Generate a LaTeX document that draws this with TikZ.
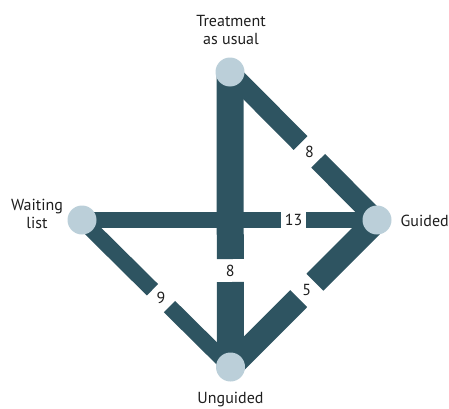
\documentclass[tikz,border=0pt]{standalone}
\usepackage{fontspec}
\setmainfont{PT Sans}
\usetikzlibrary{calc,backgrounds}
\definecolor{edgec}{RGB}{46,84,97}
\definecolor{nodec}{RGB}{187,207,217}
\definecolor{txtc}{RGB}{30,30,30}
\begin{document}
\begin{tikzpicture}[x=1pt,y=1pt,
  edge/.style={draw=edgec, line cap=butt},
  vert/.style={circle, fill=nodec, minimum size=29pt, inner sep=0pt},
  lbl/.style={font=\fontsize{16}{18}\selectfont, text=txtc, inner sep=0pt, align=center},
  num/.style={font=\fontsize{16}{18}\selectfont, text=txtc, inner sep=0pt}]
\useasboundingbox (0,0) rectangle (449,408);
% treatment nodes
\node[vert] (TAU) at (230,336) {};
\node[vert] (WL) at (82,188) {};
\node[vert] (G) at (377,188) {};
\node[vert] (U) at (230.5,41) {};
% names
\node[lbl, anchor=base] (tTAU) at (231,363.5) {Treatment\\as usual};
\node[lbl, anchor=base] (tWL) at (37,180) {Waiting\\list};
\node[lbl, anchor=base west] (tG) at (400.5,181.5) {Guided};
\node[lbl, anchor=base] (tU) at (230.5,4.5) {Unguided};
% edges
\begin{scope}[on background layer]
\path ($(TAU.center)!0.54!(G.center)$) coordinate (m1);
\draw[edge, line width=19.5pt] (TAU.center) -- ($(m1)!12.5pt!(TAU.center)$) ($(m1)!12.5pt!(G.center)$) -- (G.center);
\path (293.5,188) coordinate (m2);
\draw[edge, line width=16pt] (WL.center) -- ($(m2)!12.5pt!(WL.center)$) ($(m2)!12.5pt!(G.center)$) -- (G.center);
\path (230.3,137.5) coordinate (m3);
\draw[edge, line width=27pt] (TAU.center) -- ($(m3)!11.5pt!(TAU.center)$) ($(m3)!11.5pt!(U.center)$) -- (U.center);
\path ($(WL.center)!0.532!(U.center)$) coordinate (m4);
\draw[edge, line width=16pt] (WL.center) -- ($(m4)!12pt!(WL.center)$) ($(m4)!12pt!(U.center)$) -- (U.center);
\path ($(G.center)!0.479!(U.center)$) coordinate (m5);
\draw[edge, line width=24pt] (G.center) -- ($(m5)!11.5pt!(G.center)$) ($(m5)!11.5pt!(U.center)$) -- (U.center);
\end{scope}
% numbers
\node[num] (n1) at (m1) {8};
\node[num] (n2) at (m2) {13};
\node[num] (n3) at (m3) {8};
\node[num] (n4) at (m4) {9};
\node[num] (n5) at (m5) {5};
\end{tikzpicture}
\end{document}
